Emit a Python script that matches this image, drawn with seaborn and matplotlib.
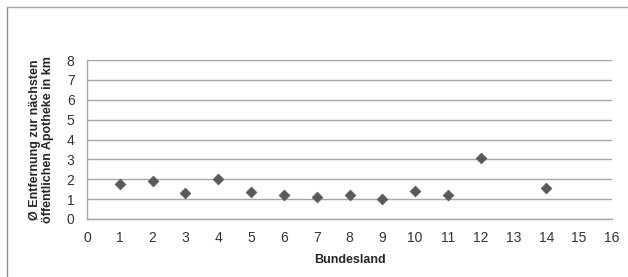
import pandas as pd
import seaborn as sns
import matplotlib.pyplot as plt
from matplotlib.lines import Line2D

bundesland = [1, 2, 3, 4, 5, 6, 7, 8, 9, 10, 11, 12, 14]
entfernung = [1.76, 1.91, 1.31, 2.01, 1.34, 1.22, 1.12, 1.19, 1.00, 1.41, 1.21, 3.08, 1.57]

df = pd.DataFrame({'Bundesland': bundesland, 'Entfernung': entfernung})

sns.set_style('white')
plt.rcParams['font.family'] = ['Liberation Sans', 'DejaVu Sans']

fig = plt.figure(figsize=(6.28, 2.77), dpi=100)
ax = fig.add_axes([87 / 628, 58 / 277, 525 / 628, 159 / 277])

sns.scatterplot(data=df, x='Bundesland', y='Entfernung', marker='D', s=30,
                color='#595959', edgecolor='#595959', linewidth=0.5, ax=ax, zorder=3)

ax.set_xlim(0, 16)
ax.set_ylim(0, 8)
ax.set_xticks(range(0, 17))
ax.set_yticks(range(0, 9))
ax.grid(axis='y', color='#a6a6a6', linewidth=1)
ax.set_axisbelow(True)
for s in ['top', 'right']:
    ax.spines[s].set_visible(False)
for s in ['left', 'bottom']:
    ax.spines[s].set_color('#a6a6a6')
    ax.spines[s].set_linewidth(1)
ax.tick_params(axis='both', which='major', direction='out', length=4, width=1,
               color='#a6a6a6', labelsize=10, labelcolor='#333333', pad=5)

ax.set_xlabel('Bundesland', fontsize=9, fontweight='bold', labelpad=6)
ax.set_ylabel('Ø Entfernung zur nächsten\nöffentlichen Apotheke in km',
              fontsize=9, fontweight='bold', labelpad=9, linespacing=1.15)

# frame lines of the cropped chart area
fig.add_artist(Line2D([7 / 628, 7 / 628], [0, 1 - 7 / 277], transform=fig.transFigure,
                      color='#8c8c8c', linewidth=1))
fig.add_artist(Line2D([7 / 628, 1], [1 - 7 / 277, 1 - 7 / 277], transform=fig.transFigure,
                      color='#a6a6a6', linewidth=1))

fig.savefig('out.png', dpi=100)
